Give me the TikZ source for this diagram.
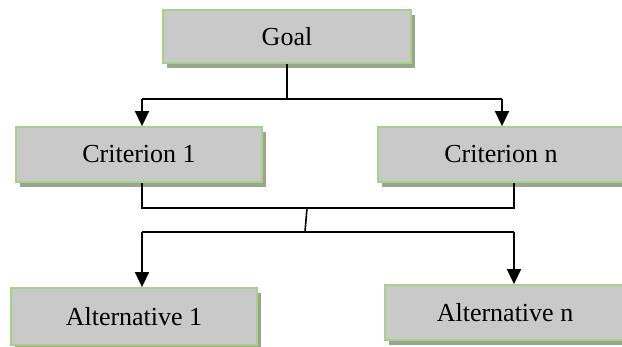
\documentclass[tikz,border=0pt]{standalone}
\usepackage{fontspec}
\setmainfont{Liberation Serif}
\usetikzlibrary{arrows.meta,shadows}

\definecolor{boxgray}{HTML}{C9C9C9}
\definecolor{boxgreen}{HTML}{A8D08D}
\definecolor{shadowgreen}{HTML}{9AA68B}

\tikzset{
  box/.style={draw=boxgreen, line width=1.8pt, fill=boxgray, rectangle,
    minimum width=246pt, minimum height=55pt, inner sep=0pt,
    font=\fontsize{26}{30}\selectfont,
    drop shadow={shadow xshift=4pt, shadow yshift=-5pt, fill=shadowgreen, opacity=1}},
  link/.style={line width=1.6pt},
  arr/.style={line width=1.6pt, -{Triangle[width=14pt,length=15pt]}}
}

\begin{document}
\begin{tikzpicture}[x=1pt, y=-1pt]
			
			\useasboundingbox (0, 0) rectangle (622, 347);
			
			\node [box, minimum width=248pt, minimum height=53pt] (goal) at (287, 36.5) {Goal};
			\node [box] (crit1) at (139, 154.5) {Criterion 1};
			\node [box] (critn) at (501, 154.5) {Criterion n};
			\node [box, minimum height=57pt] (alt1) at (134, 316.5) {Alternative 1};
			\node [box, minimum width=240pt] (altn) at (505, 312.5) {Alternative n};
			
			% fork points
			\coordinate (upmid) at (287, 99);
			\coordinate (upL) at (142, 99);
			\coordinate (upR) at (502, 99);
			\coordinate (midL) at (142, 208);
			\coordinate (midR) at (514, 208);
			\coordinate (midC) at (307, 208);
			\coordinate (lowC) at (305, 232);
			\coordinate (lowL) at (142, 232);
			\coordinate (lowR) at (514, 232);
			
			\draw [link] (goal.south) -- (upmid);
			\draw [link] (upL) -- (upR);
			\draw [arr] (upL) -- (upL |- crit1.north);
			\draw [arr] (upR) -- (upR |- critn.north);
			
			\draw [link] (midL |- crit1.south) -- (midL) -- (midR) -- (midR |- critn.south);
			\draw [link] (midC) -- (lowC);
			
			\draw [link] (lowL) -- (lowR);
			\draw [arr] (lowL) -- (lowL |- alt1.north);
			\draw [arr] (lowR) -- (lowR |- altn.north);
			
\end{tikzpicture}
\end{document}
